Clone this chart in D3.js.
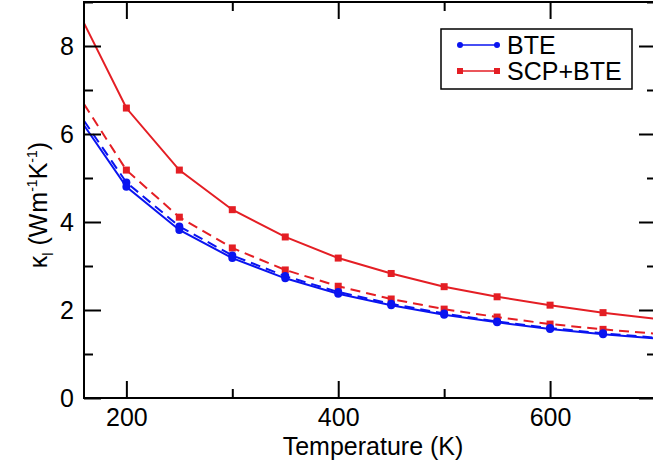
<!DOCTYPE html>
<html>
<head>
<meta charset="utf-8">
<script src="https://cdn.jsdelivr.net/npm/d3@7"></script>
<style>
  body { margin: 0; background: #fff; }
  svg { display: block; font-family: "Liberation Sans", Arial, sans-serif; }
</style>
</head>
<body>
<div id="chart"></div>
<script>
const width = 653;
const height = 467;

// temperature (K)
const temps = [160, 200, 250, 300, 350, 400, 450, 500, 550, 600, 650, 700];
// kappa_l (W m^-1 K^-1)
const bteSolid  = [6.20, 4.80, 3.82, 3.18, 2.72, 2.37, 2.11, 1.89, 1.72, 1.57, 1.45, 1.35];
const bteDashed = [6.30, 4.90, 3.90, 3.24, 2.77, 2.41, 2.14, 1.92, 1.74, 1.59, 1.47, 1.37];
const scpSolid  = [8.52, 6.59, 5.18, 4.28, 3.66, 3.18, 2.83, 2.53, 2.30, 2.11, 1.94, 1.80];
const scpDashed = [6.68, 5.18, 4.11, 3.41, 2.91, 2.54, 2.25, 2.02, 1.84, 1.68, 1.56, 1.46];

const xMajor = [200, 400, 600];
const xMinor = [300, 500, 700];
const yMajor = [0, 2, 4, 6, 8];
const yMinor = [1, 3, 5, 7, 9];

const legendNames = ["BTE", "SCP+BTE"];

const blue = "#0a14f0";
const red = "#e41e24";

const plot = {left: 84, right: 656, top: 2, bottom: 398};

const x = d3.scaleLinear().domain([160, 700]).range([plot.left, plot.right]);
const y = d3.scaleLinear().domain([0, 9]).range([plot.bottom, plot.top]);

const svg = d3.select("#chart").append("svg")
    .attr("width", width)
    .attr("height", height);

svg.append("defs").append("clipPath")
    .attr("id", "clip")
  .append("rect")
    .attr("x", plot.left)
    .attr("y", plot.top)
    .attr("width", plot.right - plot.left)
    .attr("height", plot.bottom - plot.top);

// series
const series = [
  {vals: scpDashed, color: red, dash: "10,6", marker: "square"},
  {vals: scpSolid,  color: red, dash: null,   marker: "square"},
  {vals: bteDashed, color: blue, dash: "10,6", marker: "circle"},
  {vals: bteSolid,  color: blue, dash: null,   marker: "circle"}
];

const line = d3.line()
    .x(d => x(d[0]))
    .y(d => y(d[1]));

const g = svg.append("g").attr("clip-path", "url(#clip)");

series.forEach(s => {
  const pts = temps.map((t, i) => [t, s.vals[i]]);
  g.append("path")
      .datum(pts)
      .attr("d", line)
      .attr("fill", "none")
      .attr("stroke", s.color)
      .attr("stroke-width", 2)
      .attr("stroke-dasharray", s.dash);

  const marked = pts.filter(p => p[0] >= 200 && p[0] <= 650);
  if (s.marker === "circle") {
    g.selectAll(null)
      .data(marked)
      .join("circle")
        .attr("cx", d => x(d[0]))
        .attr("cy", d => y(d[1]))
        .attr("r", 4)
        .attr("fill", s.color);
  } else {
    g.selectAll(null)
      .data(marked)
      .join("rect")
        .attr("x", d => x(d[0]) - 3.5)
        .attr("y", d => y(d[1]) - 3.5)
        .attr("width", 7)
        .attr("height", 7)
        .attr("fill", s.color);
  }
});

// axes, ticks inward on all four sides
function styleAxis(sel) {
  sel.select(".domain").remove();
  sel.selectAll(".tick line").attr("stroke", "#000").attr("stroke-width", 2);
  sel.selectAll(".tick text")
      .attr("fill", "#000")
      .style("font-size", "25px")
      .style("font-family", "'Liberation Sans', Arial, sans-serif");
}

svg.append("g")
    .attr("transform", `translate(0,${plot.bottom})`)
    .call(d3.axisBottom(x).tickValues(xMajor).tickSizeInner(-17).tickSizeOuter(0).tickPadding(10).tickFormat(d3.format("d")))
    .call(styleAxis);
svg.append("g")
    .attr("transform", `translate(0,${plot.bottom})`)
    .call(d3.axisBottom(x).tickValues(xMinor).tickSizeInner(-9).tickSizeOuter(0).tickFormat(""))
    .call(styleAxis);
svg.append("g")
    .attr("transform", `translate(0,${plot.top})`)
    .call(d3.axisTop(x).tickValues(xMajor).tickSizeInner(-17).tickSizeOuter(0).tickFormat(""))
    .call(styleAxis);
svg.append("g")
    .attr("transform", `translate(0,${plot.top})`)
    .call(d3.axisTop(x).tickValues(xMinor).tickSizeInner(-9).tickSizeOuter(0).tickFormat(""))
    .call(styleAxis);

svg.append("g")
    .attr("transform", `translate(${plot.left},0)`)
    .call(d3.axisLeft(y).tickValues(yMajor).tickSizeInner(-17).tickSizeOuter(0).tickPadding(10).tickFormat(d3.format("d")))
    .call(styleAxis);
svg.append("g")
    .attr("transform", `translate(${plot.left},0)`)
    .call(d3.axisLeft(y).tickValues(yMinor).tickSizeInner(-9).tickSizeOuter(0).tickFormat(""))
    .call(styleAxis);
svg.append("g")
    .attr("transform", `translate(${plot.right},0)`)
    .call(d3.axisRight(y).tickValues(yMajor).tickSizeInner(-17).tickSizeOuter(0).tickFormat(""))
    .call(styleAxis);
svg.append("g")
    .attr("transform", `translate(${plot.right},0)`)
    .call(d3.axisRight(y).tickValues(yMinor).tickSizeInner(-9).tickSizeOuter(0).tickFormat(""))
    .call(styleAxis);

// frame
svg.append("rect")
    .attr("x", plot.left)
    .attr("y", plot.top)
    .attr("width", plot.right - plot.left)
    .attr("height", plot.bottom - plot.top)
    .attr("fill", "none")
    .attr("stroke", "#000")
    .attr("stroke-width", 2);

// axis titles
svg.append("text")
    .attr("x", 373)
    .attr("y", 455)
    .attr("text-anchor", "middle")
    .style("font-size", "25px")
    .text("Temperature (K)");

const yl = svg.append("text")
    .attr("transform", "translate(47,205) rotate(-90)")
    .attr("text-anchor", "middle")
    .style("font-size", "25px");
yl.append("tspan").text("κ");
yl.append("tspan").attr("dy", 6).style("font-size", "14px").text("l");
yl.append("tspan").attr("dy", -6).text(" (W");
yl.append("tspan").attr("dx", 1).text("m");
yl.append("tspan").attr("dy", -10).style("font-size", "14px").text("-1");
yl.append("tspan").attr("dy", 10).text("K");
yl.append("tspan").attr("dy", -10).style("font-size", "14px").text("-1");
yl.append("tspan").attr("dy", 10).text(")");

// legend
const lg = svg.append("g");
lg.append("rect")
    .attr("x", 441).attr("y", 29)
    .attr("width", 191).attr("height", 60)
    .attr("fill", "#fff")
    .attr("stroke", "#000")
    .attr("stroke-width", 1.5);

const items = lg.selectAll("g.item")
  .data(legendNames)
  .join("g")
    .attr("class", "item")
    .attr("transform", (d, i) => `translate(0,${45 + i * 26})`);

items.append("line")
    .attr("x1", 460).attr("x2", 497)
    .attr("stroke", (d, i) => i === 0 ? blue : red)
    .attr("stroke-width", 1.5);
items.each(function (d, i) {
  const it = d3.select(this);
  [460, 497].forEach(cx => {
    if (i === 0) {
      it.append("circle").attr("cx", cx).attr("cy", 0).attr("r", 3).attr("fill", blue);
    } else {
      it.append("rect").attr("x", cx - 3).attr("y", -3).attr("width", 6).attr("height", 6).attr("fill", red);
    }
  });
});
items.append("text")
    .attr("x", 507)
    .attr("y", 9)
    .style("font-size", "25px")
    .text(d => d);
</script>
</body>
</html>
